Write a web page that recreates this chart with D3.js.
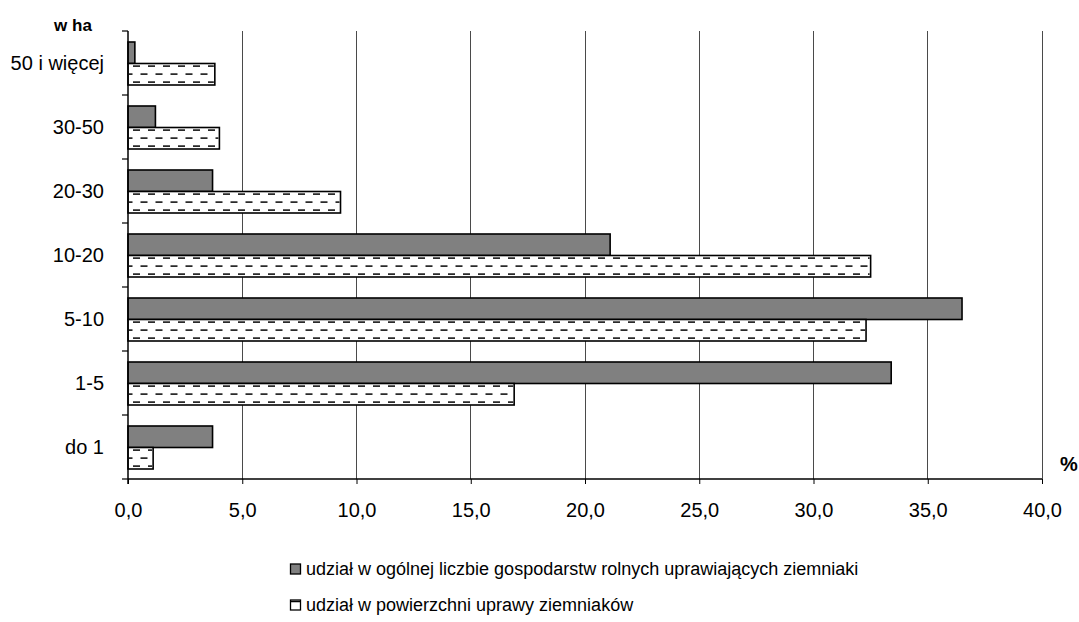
<!DOCTYPE html>
<html>
<head>
<meta charset="utf-8">
<script src="https://cdn.jsdelivr.net/npm/d3@7"></script>
<style>
  html, body { margin: 0; padding: 0; background: #fff; }
  svg { display: block; }
  text { font-family: "Liberation Sans", Arial, sans-serif; fill: #000; }
</style>
</head>
<body>
<svg id="chart" width="1079" height="622"></svg>
<script>
// ---- data ----
const categories = ["50 i więcej", "30-50", "20-30", "10-20", "5-10", "1-5", "do 1"];
const farmsShare = [0.3, 1.2, 3.7, 21.1, 36.5, 33.4, 3.7];
const areaShare  = [3.8, 4.0, 9.3, 32.5, 32.3, 16.9, 1.1];
const seriesNames = [
  "udział w ogólnej liczbie gospodarstw rolnych uprawiających ziemniaki",
  "udział w powierzchni uprawy ziemniaków"
];
const xTicks = [0, 5, 10, 15, 20, 25, 30, 35, 40];
const xDomain = [0, 40];

(function () {
// ---- layout ----
const svg = d3.select("#chart");
const pLeft = 128, pRight = 1042, pTop = 31, pBottom = 479;

const x = d3.scaleLinear().domain(xDomain).range([pLeft, pRight]);
const yCell = d3.scaleBand().domain(categories).range([pTop, pBottom]).padding(0);
const ySeries = d3.scaleBand().domain([0, 1]).range([11, 54]).padding(0);

const fmt = v => d3.format(".1f")(v).replace(".", ",");

// grid lines
svg.append("g").selectAll("line")
  .data(xTicks.filter(t => t > 0))
  .join("line")
  .attr("x1", d => x(d)).attr("x2", d => x(d))
  .attr("y1", pTop).attr("y2", pBottom)
  .attr("stroke", "#4a4a4a").attr("stroke-width", 1)
  .attr("shape-rendering", "crispEdges");

// bars
const rows = categories.map((c, i) => ({ cat: c, vals: [farmsShare[i], areaShare[i]] }));
const gBars = svg.append("g");
rows.forEach(r => {
  r.vals.forEach((v, s) => {
    const y0 = yCell(r.cat) + ySeries(s);
    const h = ySeries.bandwidth();
    const w = x(v) - x(0);
    if (s === 0) {
      gBars.append("rect")
        .attr("x", x(0)).attr("y", y0).attr("width", w).attr("height", h)
        .attr("fill", "#808080").attr("stroke", "#000").attr("stroke-width", 1.6);
    } else {
      gBars.append("rect")
        .attr("x", x(0)).attr("y", y0).attr("width", w).attr("height", h)
        .attr("fill", "#fff");
      [2.6, 10.6, 18.6].forEach((off, k) => {
        gBars.append("line")
          .attr("x1", x(0) + 1).attr("x2", x(0) + w - 1)
          .attr("y1", y0 + off).attr("y2", y0 + off)
          .attr("stroke", "#2a2a2a").attr("stroke-width", 1.8)
          .attr("stroke-dasharray", "7 8")
          .attr("stroke-dashoffset", k % 2 === 0 ? -4 : -11.5);
      });
      gBars.append("rect")
        .attr("x", x(0)).attr("y", y0).attr("width", w).attr("height", h)
        .attr("fill", "none").attr("stroke", "#000").attr("stroke-width", 1.6);
    }
  });
});

// x axis
const xAxis = d3.axisBottom(x).tickValues(xTicks).tickFormat(fmt).tickSize(5).tickPadding(19);
const gx = svg.append("g").attr("transform", `translate(0,${pBottom})`).call(xAxis);
gx.select(".domain").attr("stroke", "#000").attr("stroke-width", 1.5).attr("d", `M${pLeft},0H${pRight}`);
gx.selectAll(".tick line").attr("stroke", "#000");
gx.selectAll(".tick text").attr("font-size", 20).attr("font-family", "Liberation Sans, Arial, sans-serif").attr("fill", "#000");

// y axis line and boundary ticks
svg.append("line").attr("x1", pLeft).attr("x2", pLeft).attr("y1", pTop).attr("y2", pBottom + 5)
  .attr("stroke", "#000").attr("stroke-width", 1.5);
const boundaries = categories.map(c => yCell(c)).concat([pBottom]);
svg.append("g").selectAll("line").data(boundaries).join("line")
  .attr("x1", pLeft - 6).attr("x2", pLeft).attr("y1", d => d).attr("y2", d => d)
  .attr("stroke", "#000").attr("stroke-width", 1.2);

// category labels
svg.append("g").selectAll("text").data(categories).join("text")
  .attr("x", 104).attr("y", d => yCell(d) + yCell.bandwidth() / 2)
  .attr("dy", "0.36em").attr("text-anchor", "end").attr("font-size", 20)
  .text(d => d);

// unit labels
svg.append("text").attr("x", 73).attr("y", 31).attr("text-anchor", "middle")
  .attr("font-size", 17).attr("font-weight", "bold").text("w ha");
svg.append("text").attr("x", 1060).attr("y", 471)
  .attr("font-size", 20).attr("font-weight", "bold").text("%");

// legend
const legendY = [569, 605];
const lg = svg.append("g");
seriesNames.forEach((name, i) => {
  lg.append("rect").attr("x", 290.5).attr("y", legendY[i] - 5).attr("width", 10).attr("height", 10)
    .attr("fill", i === 0 ? "#808080" : "#fff").attr("stroke", "#000").attr("stroke-width", 1.3);
  if (i === 1) {
    lg.append("line").attr("x1", 291).attr("x2", 300).attr("y1", legendY[i] - 3.5).attr("y2", legendY[i] - 3.5)
      .attr("stroke", "#000").attr("stroke-width", 1.5);
  }
  lg.append("text").attr("x", 306).attr("y", legendY[i]).attr("dy", "0.36em")
    .attr("font-size", 18).text(name);
});
})();
</script>
</body>
</html>
